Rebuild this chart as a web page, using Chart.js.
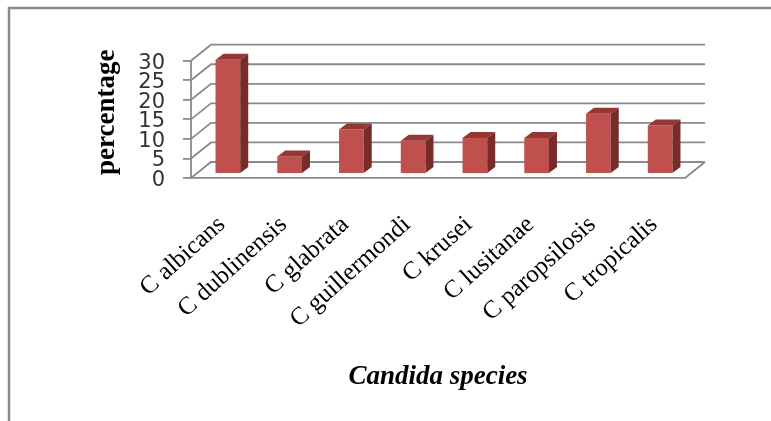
<!DOCTYPE html>
<html>
<head>
<meta charset="utf-8">
<style>
html,body{margin:0;padding:0;background:#fff;overflow:hidden}
canvas{display:block;filter:blur(0.55px)}
</style>
<script src="https://cdn.jsdelivr.net/npm/chart.js@4"></script>
</head>
<body>
<canvas id="c" width="771" height="421"></canvas>
<script>
const categories = ["C albicans","C dublinensis","C glabrata","C guillermondi","C krusei","C lusitanae","C paropsilosis","C tropicalis"];
const percentages = [29.2,4.5,11.4,8.5,9.2,9.2,15.4,12.4];
const yTicks = [0,5,10,15,20,25,30];
const yTitle = "percentage";
const xTitle = "Candida species";

const GRID = "#8a8a8a";
const wallDepth = {x:20,y:-16};
const barShift = {x:6,y:-4};
const barDepth = {x:8,y:-6};

const frame3d = {
  id:"frame3d",
  afterLayout(chart){
    const s = chart.scales.y;
    s.top -= 7; s.bottom -= 7;
  },
  beforeDraw(chart){
    const {ctx,chartArea:a,scales:{y}} = chart;
    ctx.save();
    ctx.strokeStyle = "#8a8a8a"; ctx.lineWidth = 2.5;
    ctx.beginPath(); ctx.moveTo(771,8); ctx.lineTo(9,8); ctx.lineTo(9,421); ctx.stroke();
    ctx.strokeStyle = GRID; ctx.lineWidth = 1.8;
    ctx.beginPath();
    yTicks.forEach(v=>{
      const p = y.getPixelForValue(v);
      ctx.moveTo(a.left,p);
      ctx.lineTo(a.left+wallDepth.x,p+wallDepth.y);
      ctx.lineTo(a.right+wallDepth.x,p+wallDepth.y);
    });
    const b = y.getPixelForValue(0);
    ctx.moveTo(a.right+wallDepth.x,b+wallDepth.y);
    ctx.lineTo(a.right,b);
    ctx.moveTo(a.left,y.getPixelForValue(30));
    ctx.lineTo(a.left,b);
    ctx.stroke();
    ctx.restore();
  },
  beforeDatasetDraw(chart){
    chart.ctx.save();
    chart.ctx.translate(barShift.x,barShift.y);
  },
  afterDatasetDraw(chart,args){
    const ctx = chart.ctx;
    chart.getDatasetMeta(args.index).data.forEach(bar=>{
      const {x,y,base,width} = bar.getProps(["x","y","base","width"],true);
      const l = x-width/2, r = x+width/2;
      ctx.fillStyle = "#953735";
      ctx.beginPath();
      ctx.moveTo(l,y); ctx.lineTo(r,y);
      ctx.lineTo(r+barDepth.x,y+barDepth.y); ctx.lineTo(l+barDepth.x,y+barDepth.y);
      ctx.closePath(); ctx.fill();
      ctx.fillStyle = "#772c2a";
      ctx.beginPath();
      ctx.moveTo(r,y); ctx.lineTo(r+barDepth.x,y+barDepth.y);
      ctx.lineTo(r+barDepth.x,base+barDepth.y); ctx.lineTo(r,base);
      ctx.closePath(); ctx.fill();
    });
    ctx.restore();
  }
};

new Chart(document.getElementById("c"),{
  type:"bar",
  data:{labels:categories,datasets:[{
    label:"percentage",
    data:percentages,
    backgroundColor:"#c0504d",
    borderWidth:0,
    barPercentage:0.4,
    categoryPercentage:1,
    clip:false
  }]},
  plugins:[frame3d],
  options:{
    responsive:false,
    animation:false,
    layout:{padding:{left:0,right:86,top:60.7,bottom:0}},
    plugins:{legend:{display:false},tooltip:{enabled:false}},
    scales:{
      x:{
        afterFit(s){s.height=243;},
        grid:{display:false},
        border:{display:true,color:GRID,width:1.8},
        ticks:{
          color:"#000",
          minRotation:42,maxRotation:42,
          autoSkip:false,
          padding:24,
          font:{family:"Liberation Serif",size:25}
        },
        title:{
          display:true,text:xTitle,color:"#000",
          font:{family:"Liberation Serif",size:27,weight:"bold",style:"italic"},
          padding:{top:0,bottom:28}
        }
      },
      y:{
        min:0,max:30,
        afterFit(s){s.width=191;},
        afterBuildTicks(s){s.ticks=yTicks.map(v=>({value:v}));},
        grid:{drawOnChartArea:false,drawTicks:true,tickLength:8,color:GRID,lineWidth:1.8},
        border:{display:false},
        ticks:{
          color:"#333",padding:18,autoSkip:false,labelOffset:2.5,
          font:{family:"DejaVu Sans",size:21}
        },
        title:{
          display:true,text:yTitle,color:"#000",
          font:{family:"Liberation Serif",size:27,weight:"bold"},
          padding:{top:91,bottom:0}
        }
      }
    }
  }
});
</script>
</body>
</html>
